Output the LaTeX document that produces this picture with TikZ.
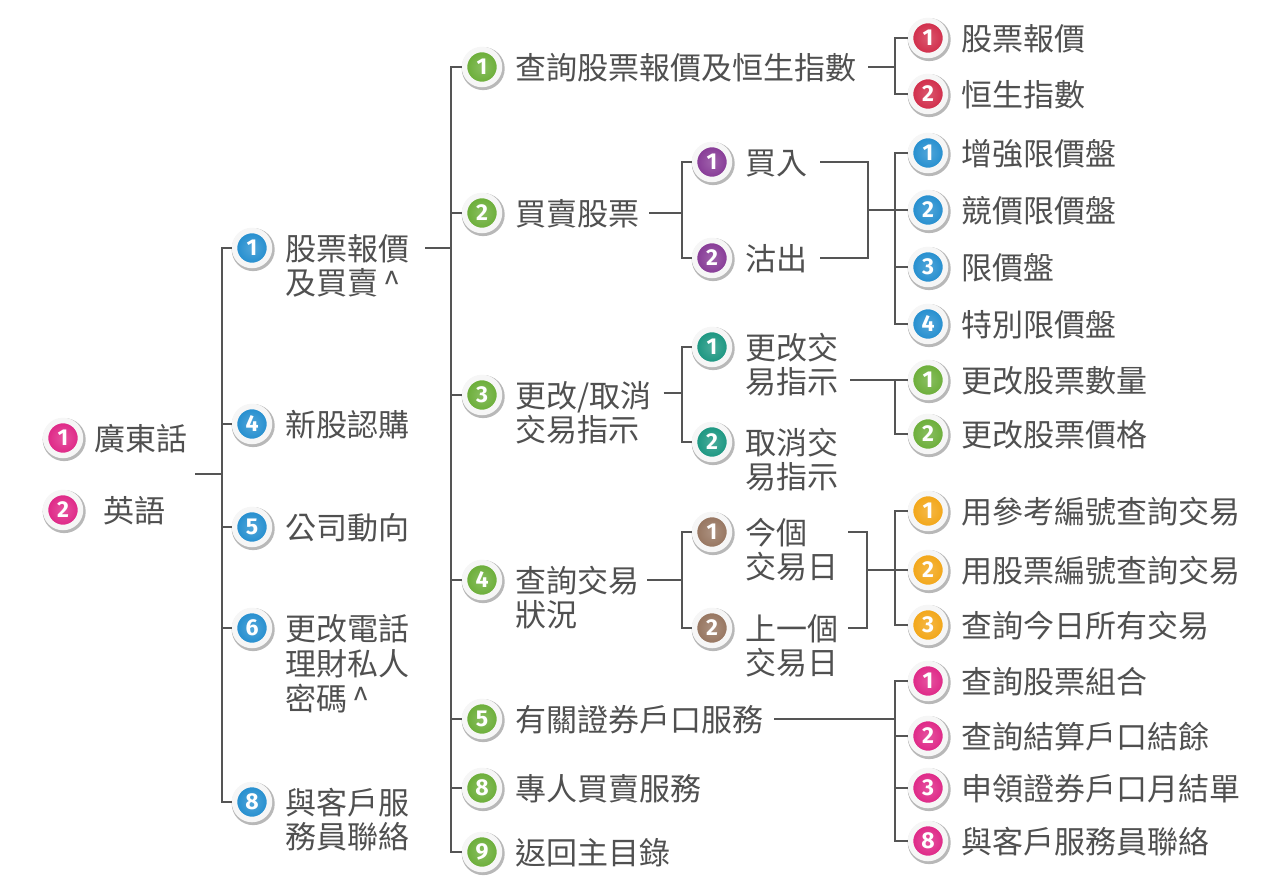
\documentclass[tikz,border=0pt]{standalone}
\usepackage{fontspec}
\newfontfamily\cjk{Noto Sans CJK TC}
\newfontfamily\digfont{Fira Sans}
\usetikzlibrary{calc}
\definecolor{pinkc}{RGB}{222,34,132}
\definecolor{bluec}{RGB}{32,140,206}
\definecolor{greenc}{RGB}{104,172,52}
\definecolor{redc}{RGB}{208,40,70}
\definecolor{purplec}{RGB}{132,54,148}
\definecolor{tealc}{RGB}{22,148,126}
\definecolor{brownc}{RGB}{148,114,92}
\definecolor{orangec}{RGB}{242,164,18}
\definecolor{txtc}{RGB}{80,80,80}
\definecolor{linec}{RGB}{85,85,85}
\definecolor{ringc}{RGB}{246,246,246}
\newcommand\mtwo[2]{\vtop{\baselineskip=34pt\lineskiplimit=-100pt\hbox{#1}\hbox{#2}}}
\newcommand\mthree[3]{\vtop{\baselineskip=35pt\lineskiplimit=-100pt\hbox{#1}\hbox{#2}\hbox{#3}}}
\tikzset{
  badge/.style={circle, minimum size=35pt, inner sep=0pt, draw=ringc, line width=5.5pt,
    inner color=#1!78!white, outer color=#1,
    preaction={draw=black!28, line width=8pt, transform canvas={xshift=1.2pt,yshift=-1.6pt}},
    text=white, font=\digfont\bfseries\fontsize{23}{23}\selectfont},
  lbl/.style={anchor=base west, inner sep=0pt, text=txtc, font=\cjk\fontsize{31}{34}\selectfont},
  conn/.style={draw=linec, line width=1.3pt}
}
\newcommand\mnode[6]{%
  \node[badge=#4] (#1b) at (#2,#3) {#5};
  \node[lbl] (#1) at (#2+33,#3+12) {#6};}
\begin{document}
\begin{tikzpicture}[x=1pt,y=-1pt]
\fill[white] (0,0) rectangle (1284,889);
\useasboundingbox (0,0) rectangle (1284,889);

% level 0
\node[badge=pinkc] (r1b) at (63,438) {1};
\node[lbl] (r1) at (94,450) {廣東話};
\node[badge=pinkc] (r2b) at (63,510) {2};
\node[lbl] (r2) at (103,522) {英語};
\coordinate (j0) at (195,474);
\coordinate (v0) at (222,474);
\draw[conn] (j0) -- (v0);

% level 1
\mnode{a1}{252}{248}{bluec}{1}{\mtwo{股票報價}{及買賣\,\textasciicircum}}
\mnode{a4}{252}{424}{bluec}{4}{新股認購}
\mnode{a5}{252}{527}{bluec}{5}{公司動向}
\mnode{a6}{252}{628}{bluec}{6}{\mthree{更改電話}{理財私人}{密碼\,\textasciicircum}}
\mnode{a8}{252}{802}{bluec}{8}{\mtwo{與客戶服}{務員聯絡}}
\foreach \t in {a1b,a4b,a5b,a6b,a8b} \draw[conn] (v0) |- (\t);

% level 2
\coordinate (v1) at (451,248);
\draw[conn] ($(a1.east |- a1b)+(16,0)$) -- (v1);
\mnode{b1}{482}{67}{greenc}{1}{查詢股票報價及恒生指數}
\mnode{b2}{482}{213}{greenc}{2}{買賣股票}
\mnode{b3}{482}{395}{greenc}{3}{\mtwo{更改/取消}{交易指示}}
\mnode{b4}{482}{580}{greenc}{4}{\mtwo{查詢交易}{狀況}}
\mnode{b5}{482}{719}{greenc}{5}{有關證券戶口服務}
\mnode{b8}{482}{788}{greenc}{8}{專人買賣服務}
\mnode{b9}{482}{852}{greenc}{9}{返回主目錄}
\foreach \t in {b1b,b2b,b3b,b4b,b5b,b8b,b9b} \draw[conn] (v1) |- (\t);

% branch 1
\coordinate (v11) at (895,67);
\draw[conn] ($(b1.east |- b1b)+(12,0)$) -- (v11);
\mnode{c1}{928}{38}{redc}{1}{股票報價}
\mnode{c2}{928}{94}{redc}{2}{恒生指數}
\foreach \t in {c1b,c2b} \draw[conn] (v11) |- (\t);

% branch 2
\coordinate (v2) at (682,213);
\draw[conn] ($(b2.east |- b2b)+(10,0)$) -- (v2);
\mnode{d1}{712}{162}{purplec}{1}{買入}
\mnode{d2}{712}{258}{purplec}{2}{沽出}
\foreach \t in {d1b,d2b} \draw[conn] (v2) |- (\t);
\coordinate (w2) at (868,210);
\coordinate (v22) at (895,210);
\draw[conn] ($(d1.east |- d1b)+(13,0)$) -| (w2);
\draw[conn] ($(d2.east |- d2b)+(13,0)$) -| (w2);
\draw[conn] (w2) -- (v22);
\mnode{e1}{928}{153}{bluec}{1}{增強限價盤}
\mnode{e2}{928}{210}{bluec}{2}{競價限價盤}
\mnode{e3}{928}{267}{bluec}{3}{限價盤}
\mnode{e4}{928}{324}{bluec}{4}{特別限價盤}
\foreach \t in {e1b,e2b,e3b,e4b} \draw[conn] (v22) |- (\t);

% branch 3
\coordinate (v3) at (682,393);
\draw[conn] ($(b3.east |- v3)+(12,0)$) -- (v3);
\mnode{f1}{712}{347}{tealc}{1}{\mtwo{更改交}{易指示}}
\mnode{f2}{712}{442}{tealc}{2}{\mtwo{取消交}{易指示}}
\foreach \t in {f1b,f2b} \draw[conn] (v3) |- (\t);
\coordinate (v32) at (895,380);
\draw[conn] ($(f1.east |- v32)+(12,0)$) -- (v32);
\mnode{g1}{928}{380}{greenc}{1}{更改股票數量}
\mnode{g2}{928}{434}{greenc}{2}{更改股票價格}
\foreach \t in {g1b,g2b} \draw[conn] (v32) |- (\t);

% branch 4
\coordinate (v4) at (682,580);
\draw[conn] ($(b4.east |- v4)+(8,0)$) -- (v4);
\mnode{h1}{712}{532}{brownc}{1}{\mtwo{今個}{交易日}}
\mnode{h2}{712}{628}{brownc}{2}{\mtwo{上一個}{交易日}}
\foreach \t in {h1b,h2b} \draw[conn] (v4) |- (\t);
\coordinate (w4) at (867,570);
\coordinate (v42) at (895,570);
\draw[conn] ($(h1.east |- h1b)+(10,0)$) -| (w4);
\draw[conn] ($(h2.east |- h2b)+(10,0)$) -| (w4);
\draw[conn] (w4) -- (v42);
\mnode{i1}{928}{511}{orangec}{1}{用參考編號查詢交易}
\mnode{i2}{928}{570}{orangec}{2}{用股票編號查詢交易}
\mnode{i3}{928}{625}{orangec}{3}{查詢今日所有交易}
\foreach \t in {i1b,i2b,i3b} \draw[conn] (v42) |- (\t);

% branch 5
\coordinate (v5) at (895,719);
\draw[conn] ($(b5.east |- b5b)+(11,0)$) -- (v5);
\mnode{k1}{928}{681}{pinkc}{1}{查詢股票組合}
\mnode{k2}{928}{736}{pinkc}{2}{查詢結算戶口結餘}
\mnode{k3}{928}{788}{pinkc}{3}{申領證券戶口月結單}
\mnode{k4}{928}{841}{pinkc}{8}{與客戶服務員聯絡}
\foreach \t in {k1b,k2b,k3b,k4b} \draw[conn] (v5) |- (\t);
\end{tikzpicture}
\end{document}
